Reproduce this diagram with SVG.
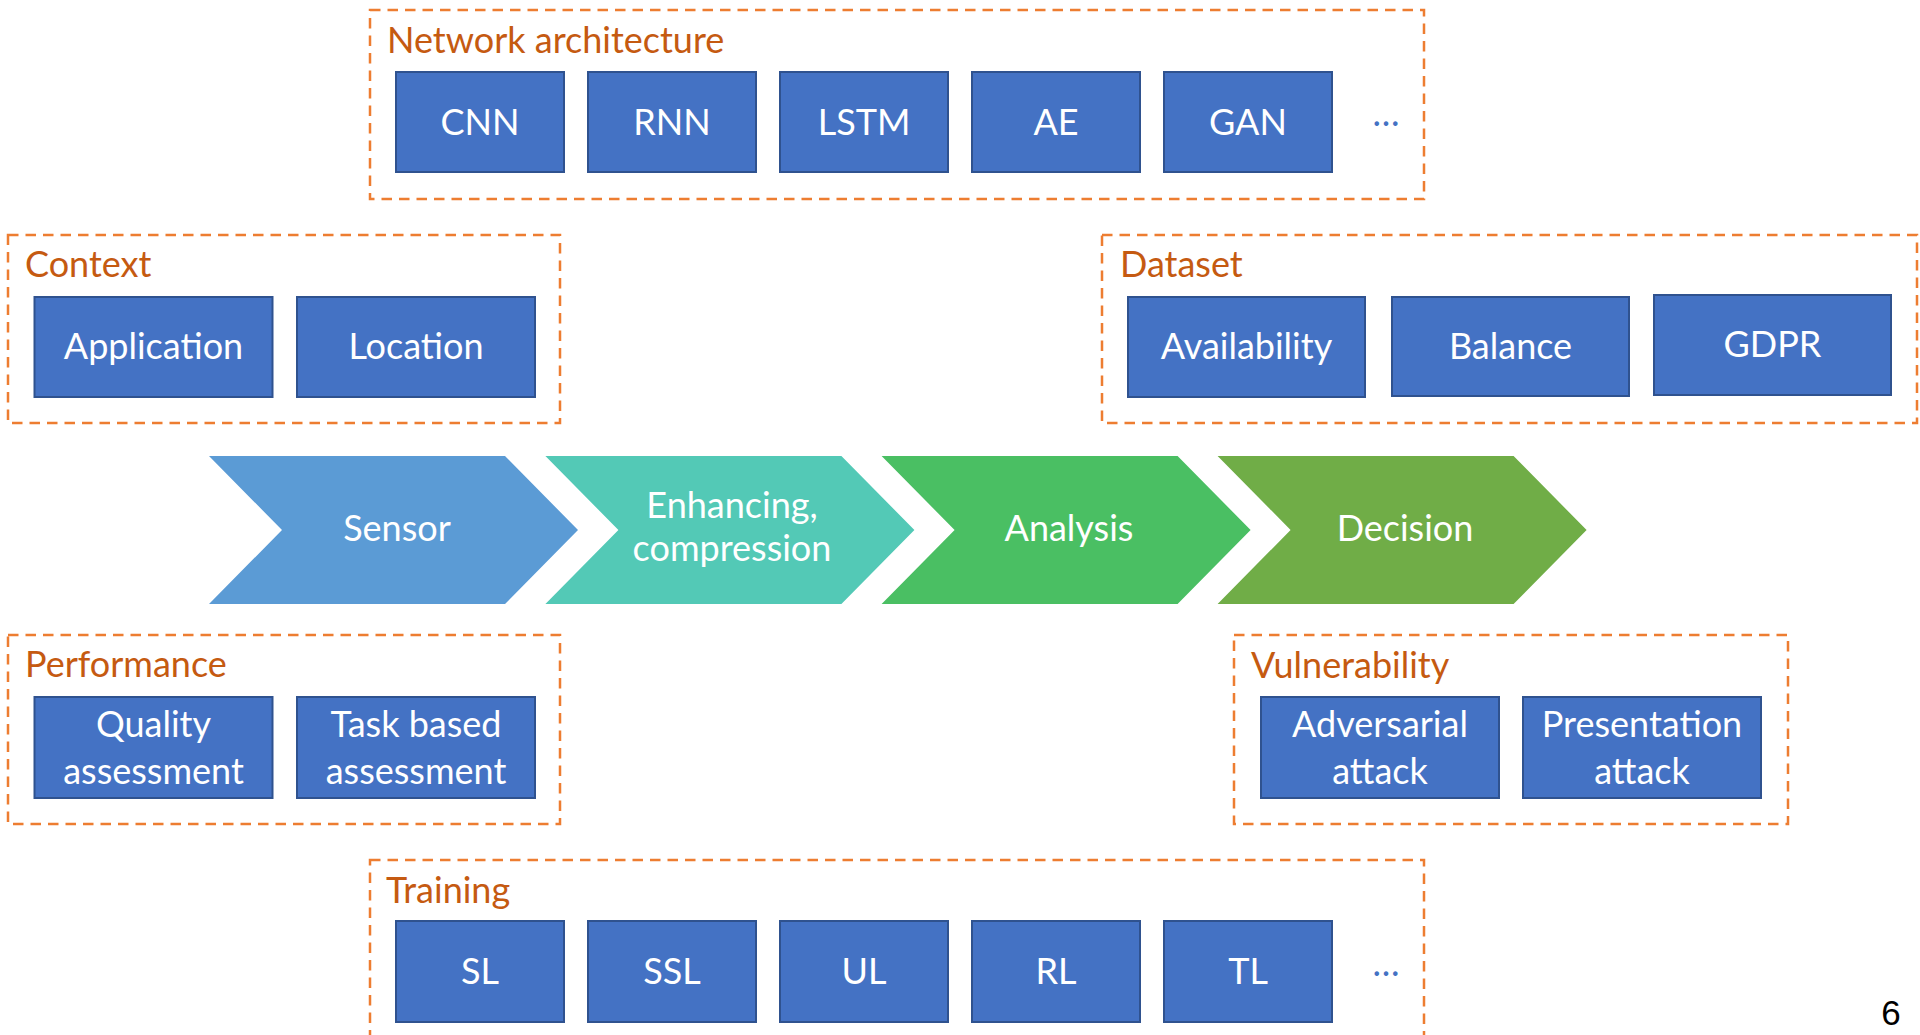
<svg xmlns="http://www.w3.org/2000/svg" width="1920" height="1035" viewBox="0 0 1920 1035">
<style>
.grp{fill:none;stroke:#ED7D31;stroke-width:2.5;stroke-dasharray:10.5 7}
.ttl{font-family:Lato,"Liberation Sans",sans-serif;font-size:36px;fill:#C55A11}
.box{fill:#4472C4;stroke:#2F528F;stroke-width:2}
.bt{font-family:Lato,"Liberation Sans",sans-serif;font-size:36px;fill:#FFFFFF;text-anchor:middle}
.dots{font-family:Lato,"Liberation Sans",sans-serif;font-size:36px;fill:#4472C4;text-anchor:middle}
</style>
<rect width="1920" height="1035" fill="#FFFFFF"/>

<g id="network-architecture">
<rect class="grp" x="370" y="10" width="1054" height="189"/>
<text class="ttl" x="387" y="53">Network architecture</text>
<g id="cnn"><rect class="box" x="396" y="72" width="168" height="100"/><text class="bt" x="480" y="135">CNN</text></g>
<g id="rnn"><rect class="box" x="588" y="72" width="168" height="100"/><text class="bt" x="672" y="135">RNN</text></g>
<g id="lstm"><rect class="box" x="780" y="72" width="168" height="100"/><text class="bt" x="864" y="135">LSTM</text></g>
<g id="ae"><rect class="box" x="972" y="72" width="168" height="100"/><text class="bt" x="1056" y="135">AE</text></g>
<g id="gan"><rect class="box" x="1164" y="72" width="168" height="100"/><text class="bt" x="1248" y="135">GAN</text></g>
<text class="dots" x="1386" y="126">…</text>
</g>

<g id="context">
<rect class="grp" x="8" y="235" width="552" height="188"/>
<text class="ttl" x="25" y="277">Context</text>
<g id="application"><rect class="box" x="34.5" y="297" width="238" height="100"/><text class="bt" x="153.5" y="359">Application</text></g>
<g id="location"><rect class="box" x="297" y="297" width="238" height="100"/><text class="bt" x="416" y="359">Location</text></g>
</g>

<g id="dataset">
<rect class="grp" x="1102" y="235" width="815" height="188"/>
<text class="ttl" x="1120" y="277">Dataset</text>
<g id="availability"><rect class="box" x="1128" y="297" width="237" height="100"/><text class="bt" x="1246.5" y="359">Availability</text></g>
<g id="balance"><rect class="box" x="1392" y="297" width="237" height="99"/><text class="bt" x="1510.5" y="359">Balance</text></g>
<g id="gdpr"><rect class="box" x="1654" y="295" width="237" height="100"/><text class="bt" x="1772.5" y="357">GDPR</text></g>
</g>

<g id="sensor"><polygon fill="#5B9BD5" points="209,456 505,456 578,530 505,604 209,604 282,530"/><text class="bt" x="397" y="541">Sensor</text></g>
<g id="enhancing"><polygon fill="#53C9B6" points="545.4,456 841.4,456 914.4,530 841.4,604 545.4,604 618.4,530"/><text class="bt" x="732" y="518">Enhancing,</text><text class="bt" x="732" y="561">compression</text></g>
<g id="analysis"><polygon fill="#4ABF63" points="881.6,456 1177.6,456 1250.6,530 1177.6,604 881.6,604 954.6,530"/><text class="bt" x="1069" y="541">Analysis</text></g>
<g id="decision"><polygon fill="#70AD47" points="1217.6,456 1513.6,456 1586.6,530 1513.6,604 1217.6,604 1290.6,530"/><text class="bt" x="1405" y="541">Decision</text></g>

<g id="performance">
<rect class="grp" x="8" y="635" width="552" height="189"/>
<text class="ttl" x="25" y="677">Performance</text>
<g id="quality"><rect class="box" x="34.5" y="697" width="238" height="101"/><text class="bt" x="153.5" y="737">Quality</text><text class="bt" x="153.5" y="784">assessment</text></g>
<g id="task"><rect class="box" x="297" y="697" width="238" height="101"/><text class="bt" x="416" y="737">Task based</text><text class="bt" x="416" y="784">assessment</text></g>
</g>

<g id="vulnerability">
<rect class="grp" x="1234" y="635" width="554" height="189"/>
<text class="ttl" x="1251" y="678">Vulnerability</text>
<g id="adversarial"><rect class="box" x="1261" y="697" width="238" height="101"/><text class="bt" x="1380" y="737">Adversarial</text><text class="bt" x="1380" y="784">attack</text></g>
<g id="presentation"><rect class="box" x="1523" y="697" width="238" height="101"/><text class="bt" x="1642" y="737">Presentation</text><text class="bt" x="1642" y="784">attack</text></g>
</g>

<g id="training">
<rect class="grp" x="370" y="860" width="1054" height="200"/>
<text class="ttl" x="386" y="903">Training</text>
<g id="sl"><rect class="box" x="396" y="921" width="168" height="101"/><text class="bt" x="480" y="984">SL</text></g>
<g id="ssl"><rect class="box" x="588" y="921" width="168" height="101"/><text class="bt" x="672" y="984">SSL</text></g>
<g id="ul"><rect class="box" x="780" y="921" width="168" height="101"/><text class="bt" x="864" y="984">UL</text></g>
<g id="rl"><rect class="box" x="972" y="921" width="168" height="101"/><text class="bt" x="1056" y="984">RL</text></g>
<g id="tl"><rect class="box" x="1164" y="921" width="168" height="101"/><text class="bt" x="1248" y="984">TL</text></g>
<text class="dots" x="1386" y="976">…</text>
</g>

<g id="connectors"/>

<text x="1891" y="1025" font-family="Liberation Sans, Arial, sans-serif" font-size="35" fill="#000000" text-anchor="middle">6</text>
</svg>
